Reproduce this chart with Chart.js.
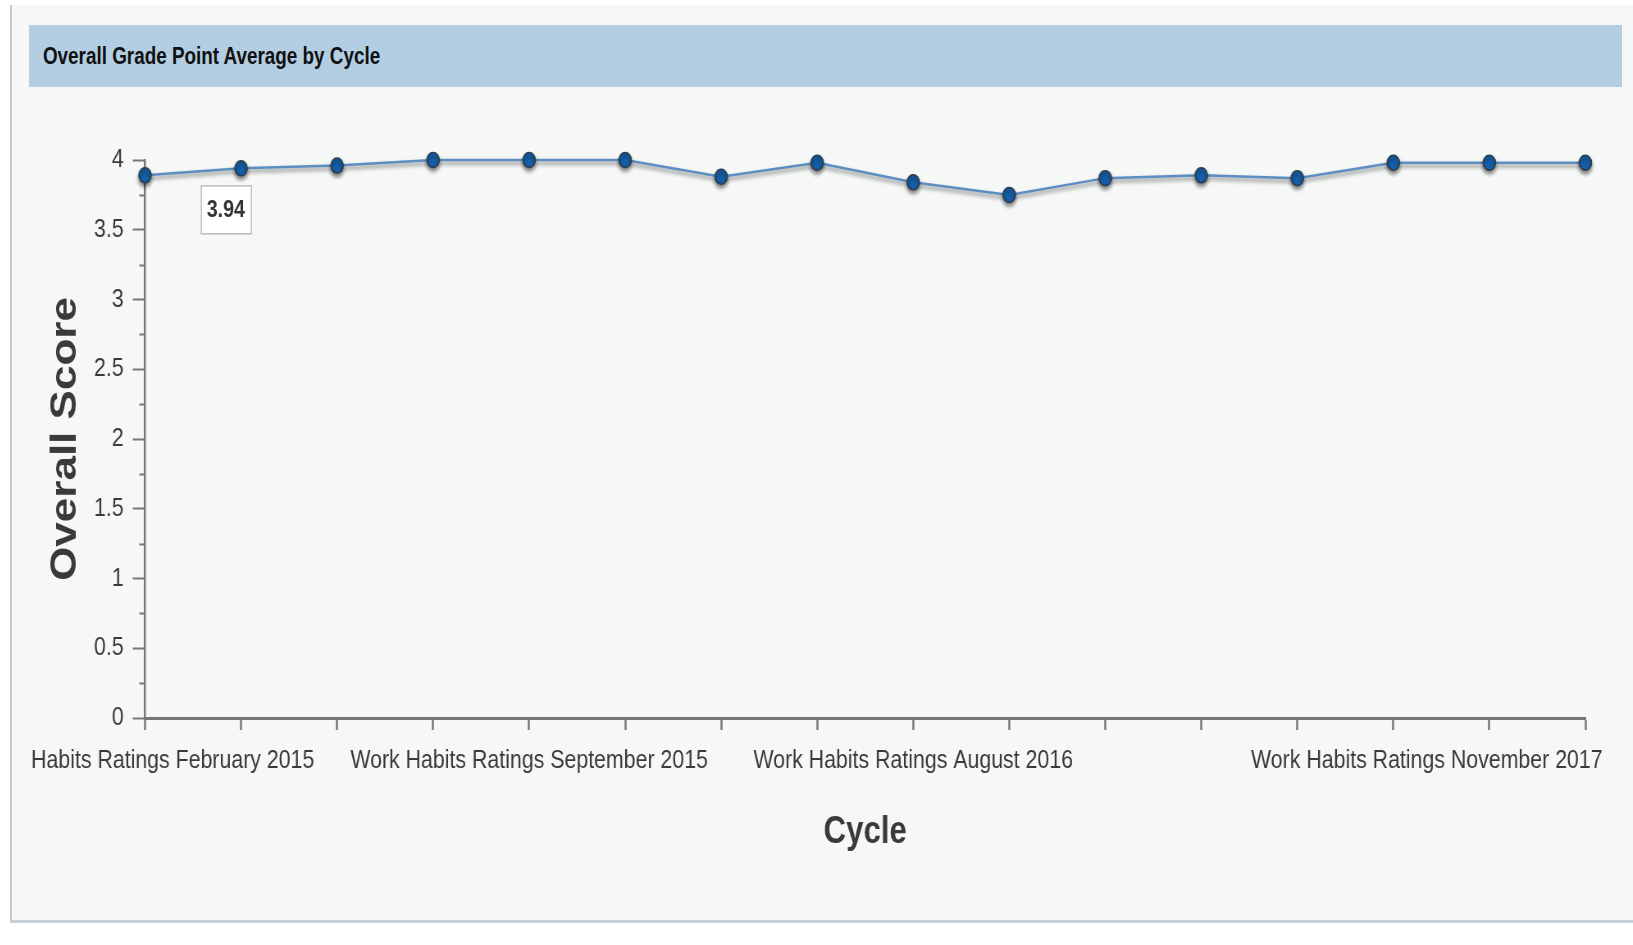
<!DOCTYPE html>
<html lang="en">
<head>
    <meta charset="UTF-8">
    <title>Overall Grade Point Average by Cycle</title>
    <style>
        html, body {
            margin: 0;
            padding: 0;
            background: #fff;
        }
        body {
            width: 1633px;
            height: 945px;
            position: relative;
            overflow: hidden;
            font-family: 'Liberation Sans', Arial, sans-serif;
        }
        .panel {
            position: absolute;
            left: 10px;
            top: 5px;
            width: 1640px;
            height: 915px;
            background: #f6f8f8;
            border-left: 2px solid #c3c9cf;
            border-bottom: 3px solid #c8cfd6;
        }
        .header {
            position: absolute;
            left: 29px;
            top: 25px;
            width: 1593px;
            height: 62px;
            background: #b3cde2;
        }
        .header h1 {
            margin: 0;
            padding-left: 17px;
            font-size: 23px;
            font-weight: bold;
            line-height: 62px;
            color: #111;
            white-space: nowrap;
            transform: scaleX(0.82);
            transform-origin: 0 0;
        }
        /* the source picture is squeezed sideways, so the chart is too */
        .chart-box {
            position: absolute;
            left: 29px;
            top: 95px;
            width: 1943px;
            height: 810px;
            transform: scaleX(0.82);
            transform-origin: 0 0;
        }
    </style>
    <script src="https://cdn.jsdelivr.net/npm/chart.js"></script>
</head>
<body>
    <div class="panel"></div>
    <div class="header"><h1>Overall Grade Point Average by Cycle</h1></div>
    <div class="chart-box"><canvas id="gpaChart"></canvas></div>

    <script>
        // cycles (only a few are labelled on the axis)
        const cycles = [
            'Work Habits Ratings February 2015',
            'Work Habits Ratings March 2015',
            'Work Habits Ratings April 2015',
            'Work Habits Ratings May 2015',
            'Work Habits Ratings September 2015',
            'Work Habits Ratings November 2015',
            'Work Habits Ratings January 2016',
            'Work Habits Ratings March 2016',
            'Work Habits Ratings August 2016',
            'Work Habits Ratings October 2016',
            'Work Habits Ratings December 2016',
            'Work Habits Ratings February 2017',
            'Work Habits Ratings April 2017',
            'Work Habits Ratings August 2017',
            'Work Habits Ratings September 2017',
            'Work Habits Ratings November 2017'
        ];
        const gpa = [3.89, 3.94, 3.96, 4.0, 4.0, 4.0, 3.88, 3.98, 3.84, 3.75, 3.87, 3.89, 3.87, 3.98, 3.98, 3.98];
        const shownLabels = [0, 4, 8, 15];
        const tooltipIndex = 1;

        const fam = "'Liberation Sans', Arial, sans-serif";
        const textColor = '#3a3a3a';
        const axisColor = '#777';

        // shadow under the line and the points
        const shadowPlugin = {
            id: 'shadow',
            beforeDatasetDraw(chart) {
                const c = chart.ctx;
                c.save();
                c.shadowColor = 'rgba(0,0,0,0.5)';
                c.shadowBlur = 4;
                c.shadowOffsetY = 3;
            },
            afterDatasetDraw(chart) {
                chart.ctx.restore();
            }
        };

        // minor y ticks, x labels and the value box
        const extrasPlugin = {
            id: 'extras',
            afterDraw(chart) {
                const c = chart.ctx;
                const ys = chart.scales.y;
                const xs = chart.scales.x;

                c.save();
                c.strokeStyle = axisColor;
                c.lineWidth = 2;
                for (let i = 0; i < ys.ticks.length - 1; i++) {
                    const mid = (ys.ticks[i].value + ys.ticks[i + 1].value) / 2;
                    const py = Math.round(ys.getPixelForValue(mid)) + 0.5;
                    c.beginPath();
                    c.moveTo(ys.right - 7, py);
                    c.lineTo(ys.right, py);
                    c.stroke();
                }

                c.font = '26px ' + fam;
                c.fillStyle = textColor;
                c.textBaseline = 'middle';
                c.textAlign = 'left';
                shownLabels.forEach(i => {
                    const txt = cycles[i];
                    const w = c.measureText(txt).width;
                    let left = xs.getPixelForTick(i) - w / 2;
                    if (left + w > chart.width - 24) left = chart.width - 24 - w;
                    c.fillText(txt, left, xs.top + 43);
                });

                const pt = chart.getDatasetMeta(0).data[tooltipIndex];
                const bx = pt.x - 49, by = pt.y + 17, bw = 61, bh = 48;
                c.fillStyle = '#fff';
                c.fillRect(bx, by, bw, bh);
                c.strokeStyle = '#aaa';
                c.lineWidth = 1.2;
                c.strokeRect(bx + 0.5, by + 0.5, bw, bh);
                c.font = 'bold 24px ' + fam;
                c.fillStyle = '#333';
                c.textAlign = 'center';
                c.fillText(gpa[tooltipIndex].toFixed(2), bx + bw / 2, by + bh / 2 + 1);
                c.restore();
            }
        };

        new Chart(document.getElementById('gpaChart'), {
            type: 'line',
            data: {
                labels: cycles,
                datasets: [{
                    data: gpa,
                    borderColor: '#5d8ec3',
                    borderWidth: 2.5,
                    pointRadius: 7.5,
                    pointBackgroundColor: '#1560a8',
                    pointBorderColor: '#2b3b4b',
                    pointBorderWidth: 1.5,
                    tension: 0,
                    fill: false,
                    clip: false
                }]
            },
            options: {
                responsive: true,
                maintainAspectRatio: false,
                animation: false,
                events: [],
                layout: { padding: { top: 65, right: 45, left: 0, bottom: 0 } },
                plugins: {
                    legend: { display: false },
                    tooltip: { enabled: false }
                },
                scales: {
                    x: {
                        offset: false,
                        grid: { drawOnChartArea: false, tickLength: 12, tickColor: axisColor, tickWidth: 2.5 },
                        border: { color: axisColor, width: 3 },
                        ticks: { display: false },
                        title: {
                            display: true,
                            text: 'Cycle',
                            color: textColor,
                            font: { family: fam, size: 38, weight: 'bold' },
                            padding: { top: 0, bottom: 50 }
                        },
                        afterFit: s => { s.height = 187; }
                    },
                    y: {
                        min: 0,
                        max: 4,
                        ticks: {
                            stepSize: 0.5,
                            padding: 11,
                            color: textColor,
                            font: { family: fam, size: 26 },
                            callback: v => String(v)
                        },
                        grid: { drawOnChartArea: false, tickLength: 15, tickColor: axisColor, tickWidth: 2 },
                        border: { color: axisColor, width: 2.5 },
                        title: {
                            display: true,
                            text: 'Overall Score',
                            color: textColor,
                            font: { family: fam, size: 44, weight: 'bold', lineHeight: 1 },
                            padding: { top: 23, bottom: 0 }
                        },
                        afterFit: s => { s.width = 141.5; }
                    }
                }
            },
            plugins: [shadowPlugin, extrasPlugin]
        });
    </script>
</body>
</html>
